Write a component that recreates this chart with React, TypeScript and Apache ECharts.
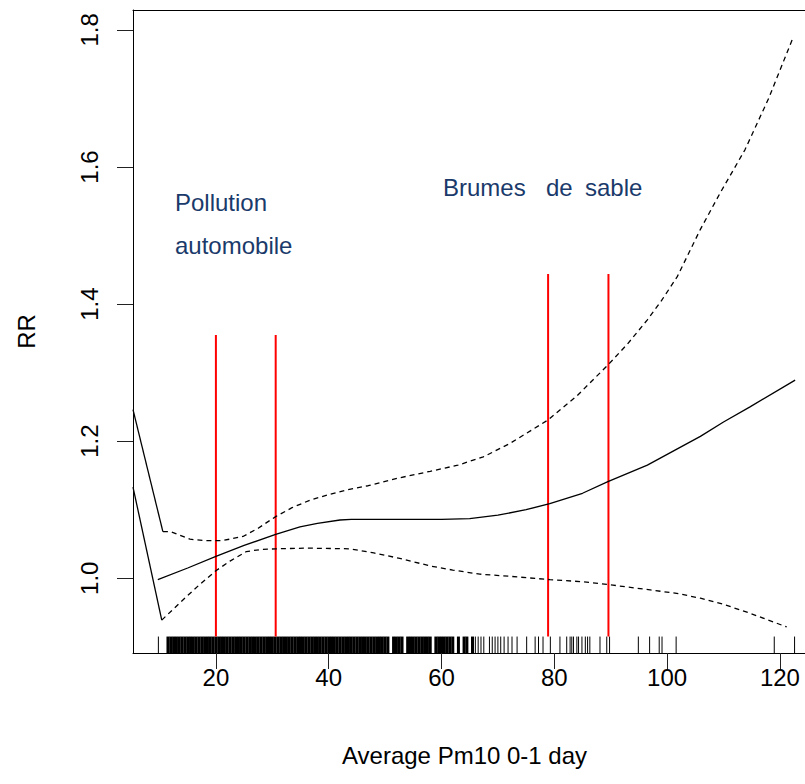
import React, { useEffect, useRef } from "react";
import * as echarts from "echarts";

// Axis ranges / ticks
const xTicks = [20, 40, 60, 80, 100, 120];
const yTicks = [1.0, 1.2, 1.4, 1.6, 1.8];
const X_MIN = 5.3;
const X_MAX = 124.45;
const Y_MIN = 0.891;
const Y_MAX = 1.829;

// RR estimate (solid)
const rrX = [9.7, 15, 20, 25, 30.6, 34.9, 38, 42, 44, 50, 60, 65, 70, 75, 79.2, 85, 89.5, 96.5, 101.4, 105.9, 110, 114.7, 122.7];
const rrY = [0.998, 1.015, 1.032, 1.048, 1.064, 1.075, 1.08, 1.085, 1.086, 1.086, 1.086, 1.087, 1.092, 1.1, 1.109, 1.124, 1.141, 1.165, 1.187, 1.207, 1.228, 1.25, 1.289];

// Upper confidence bound (dashed)
const upX = [10.6, 12, 15.4, 18, 21.2, 24.8, 27.5, 30.6, 33.5, 36.7, 40, 43.2, 47, 52.2, 58, 62.9, 67.4, 72.2, 78.9, 84, 89.5, 93, 96.5, 99, 101.8, 105.9, 109.4, 113.8, 118, 122.2];
const upY = [1.068, 1.068, 1.057, 1.055, 1.055, 1.061, 1.073, 1.09, 1.103, 1.114, 1.122, 1.129, 1.135, 1.146, 1.156, 1.165, 1.177, 1.197, 1.231, 1.266, 1.311, 1.342, 1.377, 1.405, 1.44, 1.509, 1.562, 1.625, 1.7, 1.786];

// Lower confidence bound (dashed)
const loX = [10.4, 14.1, 17, 20, 22.5, 25.4, 28, 30.6, 36, 43.8, 48, 52.6, 58, 62, 66.8, 72, 79.2, 85, 90.4, 97, 101.7, 105.9, 110, 114.7, 121.2];
const loY = [0.939, 0.968, 0.99, 1.011, 1.025, 1.039, 1.042, 1.043, 1.044, 1.043, 1.037, 1.029, 1.018, 1.012, 1.006, 1.003, 0.998, 0.995, 0.99, 0.983, 0.978, 0.971, 0.962, 0.949, 0.929];

// Solid segments entering from the left edge
const segAX = [5.3, 10.6];
const segAY = [1.246, 1.068];
const segBX = [5.3, 10.4];
const segBY = [1.133, 0.939];

// Red vertical reference lines
const redX = [20, 30.6, 78.9, 89.6];
const redTop = [1.355, 1.355, 1.444, 1.444];
const redBottom = 0.915;

// Rug (observations)
const rugTop = 0.915;
const rugDense = [
  11.5, 12, 12.5, 13, 13.5, 14, 14.5, 15, 15.5, 16, 16.5, 17, 17.5, 18, 18.5, 19, 19.5, 20, 20.5, 21,
  21.5, 22, 22.5, 23, 23.5, 24, 24.5, 25, 25.5, 26, 26.5, 27, 27.5, 28, 28.5, 29, 29.5, 30, 30.5, 31,
  31.5, 32, 32.5, 33, 33.5, 34, 34.5, 35, 35.5, 36, 36.5, 37, 37.5, 38, 38.5, 39, 39.5, 40, 40.5, 41,
  41.5, 42, 42.5, 43, 43.5, 44, 44.5, 45, 45.5, 46, 46.5, 47, 47.5, 48, 48.5, 49, 49.5, 50, 50.5, 51.5,
  52, 52.5, 53, 54, 54.5, 55, 55.5, 56, 56.5, 57, 57.5, 58, 59, 59.5, 60, 60.5, 61, 61.5, 62, 63, 64, 64.5, 65.5
];
const rugSparse = [
  9.8, 66, 66.5, 67, 67.5, 68.5, 69, 69.5, 70, 70.5, 71.1, 71.8, 72.5, 73.4,
  75.1, 76.6, 77.2, 78.0, 79.3, 81.0, 82.2, 82.8, 83.1, 83.4, 84.0, 84.3, 84.9, 85.5, 85.9, 86.3,
  88.1, 89.3, 89.8, 94.9, 96.9, 98.6, 99.1, 101.6, 119.0, 122.6
];

const FONT = "'Liberation Sans', Arial, Helvetica, sans-serif";
const NAVY = "#1a3a6b";

const zip = (xs: number[], ys: number[]) => xs.map((x, i) => [x, ys[i]]);

function rugSeries(values: number[], width: number) {
  return {
    type: "custom",
    silent: true,
    clip: true,
    data: values.map((v) => [v]),
    renderItem: (params: any, api: any) => {
      const x = api.value(0);
      const p0 = api.coord([x, Y_MIN]);
      const p1 = api.coord([x, rugTop]);
      return {
        type: "line",
        shape: { x1: p0[0], y1: p0[1], x2: p1[0], y2: p1[1] },
        style: { stroke: "#000", lineWidth: width },
      };
    },
  };
}

export default function App() {
  const ref = useRef<HTMLDivElement>(null);

  useEffect(() => {
    if (!ref.current) return;
    const chart = echarts.init(ref.current, undefined, { renderer: "svg" });
    const lineBase = {
      type: "line",
      showSymbol: false,
      symbol: "none",
      silent: true,
      clip: true,
    };
    chart.setOption({
      animation: false,
      backgroundColor: "#fff",
      grid: {
        left: 133,
        top: 10,
        right: 0,
        bottom: 131,
        show: false,
      },
      xAxis: [
        {
          type: "value",
          position: "bottom",
          min: X_MIN,
          max: X_MAX,
          axisLine: { show: true, onZero: false, lineStyle: { color: "#000", width: 1 } },
          splitLine: { show: false },
          axisTick: {
            show: true,
            inside: false,
            length: 16,
            customValues: xTicks,
            lineStyle: { color: "#222", width: 1 },
          },
          axisLabel: {
            customValues: xTicks,
            fontSize: 24,
            fontFamily: FONT,
            color: "#000",
            margin: 12,
          },
        },
        {
          type: "value",
          position: "top",
          min: X_MIN,
          max: X_MAX,
          axisLine: { show: true, onZero: false, lineStyle: { color: "#000", width: 1 } },
          splitLine: { show: false },
          axisTick: { show: false },
          axisLabel: { show: false },
        },
      ],
      yAxis: {
        type: "value",
        min: Y_MIN,
        max: Y_MAX,
        name: "RR",
        nameLocation: "middle",
        nameRotate: 90,
        nameGap: 95,
        nameTextStyle: { fontSize: 24, fontFamily: FONT, color: "#000" },
        axisLine: { show: true, onZero: false, lineStyle: { color: "#000", width: 1 } },
        splitLine: { show: false },
        axisTick: {
          show: true,
          inside: false,
          length: 16,
          customValues: yTicks,
          lineStyle: { color: "#222", width: 1 },
        },
        axisLabel: {
          customValues: yTicks,
          rotate: 90,
          fontSize: 24,
          fontFamily: FONT,
          color: "#000",
          margin: 32,
          formatter: (v: number) => v.toFixed(1),
        },
      },
      graphic: [
        {
          type: "text",
          left: 466 - 124,
          top: 743,
          style: { text: "Average Pm10 0-1 day", fontSize: 24, fontFamily: FONT, fill: "#000" },
        },
        {
          type: "text",
          x: 175,
          y: 202,
          style: { text: "Pollution", fontSize: 24, fontFamily: FONT, fill: NAVY, verticalAlign: "middle" },
        },
        {
          type: "text",
          x: 175,
          y: 245,
          style: { text: "automobile", fontSize: 24, fontFamily: FONT, fill: NAVY, verticalAlign: "middle" },
        },
        {
          type: "text",
          x: 443,
          y: 187,
          style: { text: "Brumes", fontSize: 24, fontFamily: FONT, fill: NAVY, verticalAlign: "middle" },
        },
        {
          type: "text",
          x: 546,
          y: 187,
          style: { text: "de", fontSize: 24, fontFamily: FONT, fill: NAVY, verticalAlign: "middle" },
        },
        {
          type: "text",
          x: 585,
          y: 187,
          style: { text: "sable", fontSize: 24, fontFamily: FONT, fill: NAVY, verticalAlign: "middle" },
        },
      ],
      series: [
        rugSeries(rugDense, 3),
        rugSeries(rugSparse, 1),
        {
          type: "custom",
          silent: true,
          clip: true,
          data: zip(redX, redTop),
          renderItem: (params: any, api: any) => {
            const x = api.value(0);
            const top = api.value(1);
            const p0 = api.coord([x, redBottom]);
            const p1 = api.coord([x, top]);
            return {
              type: "line",
              shape: { x1: p0[0], y1: p0[1], x2: p1[0], y2: p1[1] },
              style: { stroke: "#ff0000", lineWidth: 2 },
            };
          },
        },
        { ...lineBase, data: zip(segAX, segAY), lineStyle: { color: "#000", width: 1.3 } },
        { ...lineBase, data: zip(segBX, segBY), lineStyle: { color: "#000", width: 1.3 } },
        { ...lineBase, data: zip(rrX, rrY), lineStyle: { color: "#000", width: 1.3 } },
        { ...lineBase, data: zip(upX, upY), lineStyle: { color: "#000", width: 1.3, type: [5, 4] } },
        { ...lineBase, data: zip(loX, loY), lineStyle: { color: "#000", width: 1.3, type: [5, 4] } },
      ],
    });
    return () => chart.dispose();
  }, []);

  return (
    <div
      ref={ref}
      style={{ position: "absolute", left: 0, top: 0, width: 805, height: 784, background: "#fff" }}
    />
  );
}
